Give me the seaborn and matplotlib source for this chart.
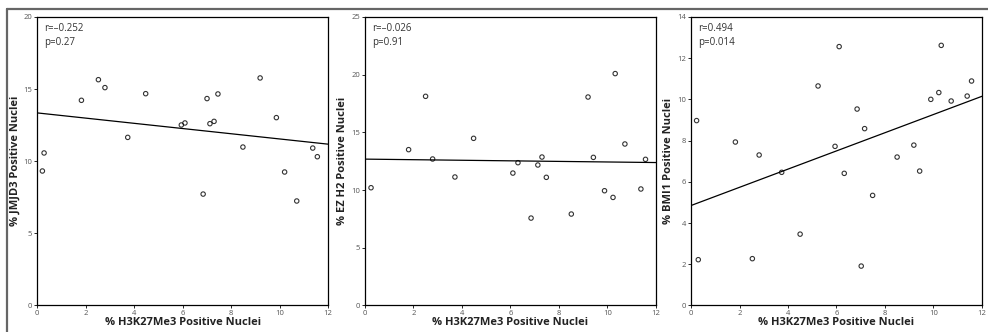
import numpy as np
import matplotlib
matplotlib.use("Agg")
import matplotlib.pyplot as plt
from matplotlib.lines import Line2D
import seaborn as sns

# H3K27Me3 vs JMJD3
x_jmjd3 = [0.22, 0.29, 1.83, 2.53, 2.80, 3.74, 4.48, 5.95, 6.10, 6.85, 7.01,
           7.13, 7.30, 7.46, 8.49, 9.20, 9.87, 10.21, 10.71, 11.37, 11.56]
y_jmjd3 = [9.32, 10.57, 14.22, 15.65, 15.10, 11.65, 14.68, 12.51, 12.65, 7.72, 14.34,
           12.60, 12.76, 14.66, 10.98, 15.77, 13.02, 9.25, 7.24, 10.91, 10.31]

# H3K27Me3 vs EZH2
x_ezh2 = [0.25, 1.80, 2.50, 2.79, 3.71, 4.48, 6.10, 6.31, 6.85, 7.13, 7.30,
          7.48, 8.51, 9.20, 9.42, 9.88, 10.23, 10.32, 10.72, 11.38, 11.57]
y_ezh2 = [10.20, 13.50, 18.12, 12.69, 11.13, 14.48, 11.47, 12.37, 7.57, 12.17, 12.86,
          11.10, 7.92, 18.06, 12.83, 9.94, 9.36, 20.09, 13.99, 10.09, 12.66]

# H3K27Me3 vs BMI1
x_bmi1 = [0.23, 0.30, 1.83, 2.53, 2.81, 3.74, 4.50, 5.24, 5.94, 6.11, 6.32, 6.85,
          7.02, 7.16, 7.49, 8.50, 9.19, 9.43, 9.89, 10.22, 10.32, 10.73, 11.39, 11.57]
y_bmi1 = [8.97, 2.22, 7.93, 2.27, 7.30, 6.46, 3.46, 10.65, 7.72, 12.56, 6.41, 9.53,
          1.91, 8.58, 5.34, 7.20, 7.78, 6.52, 10.00, 10.33, 12.62, 9.92, 10.16, 10.89]

xlabel = "% H3K27Me3 Positive Nuclei"
ylabels = ["% JMJD3 Positive Nuclei", "% EZ H2 Positive Nuclei", "% BMI1 Positive Nuclei"]
stats = [("r=\u20130.252", "p=0.27"), ("r=\u20130.026", "p=0.91"), ("r=0.494", "p=0.014")]
ymax = [20, 25, 14]
ystep = [5, 5, 2]

sns.set_style("ticks")
plt.rcParams['font.family'] = ['Open Sans', 'DejaVu Sans']

fig = plt.figure(figsize=(9.88, 3.32), dpi=100)
lefts = [0.0375, 0.3694, 0.6994]
panels = [(x_jmjd3, y_jmjd3), (x_ezh2, y_ezh2), (x_bmi1, y_bmi1)]

for i, (xs, ys) in enumerate(panels):
    ax = fig.add_axes([lefts[i], 0.080, 0.2945, 0.869])
    ax.set_xlim(0, 12)
    ax.set_ylim(0, ymax[i])
    sns.regplot(x=np.array(xs), y=np.array(ys), ax=ax, ci=None, truncate=False,
                color="black",
                scatter_kws={"facecolors": "none", "s": 10, "linewidths": 0.8},
                line_kws={"lw": 0.9})
    ax.set_xticks(np.arange(0, 13, 2))
    ax.set_yticks(np.arange(0, ymax[i] + 1, ystep[i]))
    ax.tick_params(labelsize=5.5, labelcolor="#555555", length=2.5, width=0.7, pad=1)
    for sp in ax.spines.values():
        sp.set_visible(True)
        sp.set_color("black")
        sp.set_linewidth(0.9)
    ax.set_xlabel(xlabel, fontsize=8, fontweight="bold", labelpad=0, color="#222222")
    ax.set_ylabel(ylabels[i], fontsize=8, fontweight="bold", labelpad=2, color="#222222")
    ax.text(0.025, 0.98, stats[i][0], transform=ax.transAxes, fontsize=7,
            color="#333333", va="top", ha="left")
    ax.text(0.025, 0.93, stats[i][1], transform=ax.transAxes, fontsize=7,
            color="#333333", va="top", ha="left")

# frame lines around the figure (top and left)
fig.add_artist(Line2D([7 / 988, 1], [1 - 9 / 332, 1 - 9 / 332], transform=fig.transFigure,
                      color="#666666", lw=1.6))
fig.add_artist(Line2D([7 / 988, 7 / 988], [0, 1 - 9 / 332], transform=fig.transFigure,
                      color="#666666", lw=1.6))

fig.savefig("out.png", dpi=100)
